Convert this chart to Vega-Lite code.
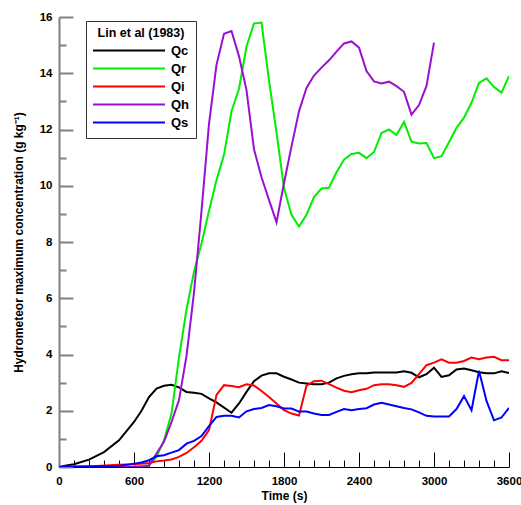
{
  "$schema": "https://vega.github.io/schema/vega-lite/v6.json",
  "width": 450,
  "height": 450,
  "autosize": "none",
  "padding": {"left": 59, "top": 17, "right": 12, "bottom": 38},
  "config": {
    "view": {"stroke": null},
    "font": "Liberation Sans"
  },
  "datasets": {
    "series": [
      {"Time": 0, "Value": 0, "Species": "Qc"},
      {"Time": 60, "Value": 0.05, "Species": "Qc"},
      {"Time": 120, "Value": 0.1, "Species": "Qc"},
      {"Time": 240, "Value": 0.26, "Species": "Qc"},
      {"Time": 360, "Value": 0.53, "Species": "Qc"},
      {"Time": 480, "Value": 0.95, "Species": "Qc"},
      {"Time": 600, "Value": 1.6, "Species": "Qc"},
      {"Time": 660, "Value": 2.0, "Species": "Qc"},
      {"Time": 720, "Value": 2.49, "Species": "Qc"},
      {"Time": 780, "Value": 2.79, "Species": "Qc"},
      {"Time": 840, "Value": 2.89, "Species": "Qc"},
      {"Time": 900, "Value": 2.92, "Species": "Qc"},
      {"Time": 960, "Value": 2.83, "Species": "Qc"},
      {"Time": 1020, "Value": 2.67, "Species": "Qc"},
      {"Time": 1080, "Value": 2.64, "Species": "Qc"},
      {"Time": 1140, "Value": 2.6, "Species": "Qc"},
      {"Time": 1200, "Value": 2.44, "Species": "Qc"},
      {"Time": 1260, "Value": 2.3, "Species": "Qc"},
      {"Time": 1380, "Value": 1.93, "Species": "Qc"},
      {"Time": 1440, "Value": 2.26, "Species": "Qc"},
      {"Time": 1500, "Value": 2.67, "Species": "Qc"},
      {"Time": 1560, "Value": 3.05, "Species": "Qc"},
      {"Time": 1620, "Value": 3.25, "Species": "Qc"},
      {"Time": 1680, "Value": 3.33, "Species": "Qc"},
      {"Time": 1740, "Value": 3.33, "Species": "Qc"},
      {"Time": 1800, "Value": 3.21, "Species": "Qc"},
      {"Time": 1860, "Value": 3.11, "Species": "Qc"},
      {"Time": 1920, "Value": 3.0, "Species": "Qc"},
      {"Time": 1980, "Value": 2.97, "Species": "Qc"},
      {"Time": 2040, "Value": 2.94, "Species": "Qc"},
      {"Time": 2100, "Value": 2.94, "Species": "Qc"},
      {"Time": 2160, "Value": 3.0, "Species": "Qc"},
      {"Time": 2220, "Value": 3.15, "Species": "Qc"},
      {"Time": 2280, "Value": 3.24, "Species": "Qc"},
      {"Time": 2340, "Value": 3.3, "Species": "Qc"},
      {"Time": 2400, "Value": 3.33, "Species": "Qc"},
      {"Time": 2460, "Value": 3.33, "Species": "Qc"},
      {"Time": 2520, "Value": 3.36, "Species": "Qc"},
      {"Time": 2580, "Value": 3.36, "Species": "Qc"},
      {"Time": 2640, "Value": 3.36, "Species": "Qc"},
      {"Time": 2700, "Value": 3.36, "Species": "Qc"},
      {"Time": 2760, "Value": 3.4, "Species": "Qc"},
      {"Time": 2820, "Value": 3.35, "Species": "Qc"},
      {"Time": 2880, "Value": 3.19, "Species": "Qc"},
      {"Time": 2940, "Value": 3.3, "Species": "Qc"},
      {"Time": 3000, "Value": 3.53, "Species": "Qc"},
      {"Time": 3060, "Value": 3.2, "Species": "Qc"},
      {"Time": 3120, "Value": 3.26, "Species": "Qc"},
      {"Time": 3180, "Value": 3.47, "Species": "Qc"},
      {"Time": 3240, "Value": 3.5, "Species": "Qc"},
      {"Time": 3300, "Value": 3.44, "Species": "Qc"},
      {"Time": 3360, "Value": 3.37, "Species": "Qc"},
      {"Time": 3420, "Value": 3.33, "Species": "Qc"},
      {"Time": 3480, "Value": 3.33, "Species": "Qc"},
      {"Time": 3540, "Value": 3.4, "Species": "Qc"},
      {"Time": 3600, "Value": 3.34, "Species": "Qc"},

      {"Time": 0, "Value": 0, "Species": "Qr"},
      {"Time": 600, "Value": 0.02, "Species": "Qr"},
      {"Time": 720, "Value": 0.06, "Species": "Qr"},
      {"Time": 780, "Value": 0.36, "Species": "Qr"},
      {"Time": 840, "Value": 0.95, "Species": "Qr"},
      {"Time": 900, "Value": 1.9, "Species": "Qr"},
      {"Time": 960, "Value": 3.9, "Species": "Qr"},
      {"Time": 1020, "Value": 5.6, "Species": "Qr"},
      {"Time": 1080, "Value": 6.95, "Species": "Qr"},
      {"Time": 1140, "Value": 7.95, "Species": "Qr"},
      {"Time": 1200, "Value": 9.1, "Species": "Qr"},
      {"Time": 1260, "Value": 10.2, "Species": "Qr"},
      {"Time": 1320, "Value": 11.1, "Species": "Qr"},
      {"Time": 1380, "Value": 12.65, "Species": "Qr"},
      {"Time": 1440, "Value": 13.45, "Species": "Qr"},
      {"Time": 1500, "Value": 14.95, "Species": "Qr"},
      {"Time": 1560, "Value": 15.77, "Species": "Qr"},
      {"Time": 1620, "Value": 15.8, "Species": "Qr"},
      {"Time": 1680, "Value": 13.75, "Species": "Qr"},
      {"Time": 1740, "Value": 11.9, "Species": "Qr"},
      {"Time": 1800, "Value": 9.92, "Species": "Qr"},
      {"Time": 1860, "Value": 8.97, "Species": "Qr"},
      {"Time": 1920, "Value": 8.55, "Species": "Qr"},
      {"Time": 1980, "Value": 8.97, "Species": "Qr"},
      {"Time": 2040, "Value": 9.6, "Species": "Qr"},
      {"Time": 2100, "Value": 9.9, "Species": "Qr"},
      {"Time": 2160, "Value": 9.93, "Species": "Qr"},
      {"Time": 2220, "Value": 10.48, "Species": "Qr"},
      {"Time": 2280, "Value": 10.93, "Species": "Qr"},
      {"Time": 2340, "Value": 11.13, "Species": "Qr"},
      {"Time": 2400, "Value": 11.17, "Species": "Qr"},
      {"Time": 2460, "Value": 10.98, "Species": "Qr"},
      {"Time": 2520, "Value": 11.2, "Species": "Qr"},
      {"Time": 2580, "Value": 11.88, "Species": "Qr"},
      {"Time": 2640, "Value": 12.0, "Species": "Qr"},
      {"Time": 2700, "Value": 11.8, "Species": "Qr"},
      {"Time": 2760, "Value": 12.27, "Species": "Qr"},
      {"Time": 2820, "Value": 11.57, "Species": "Qr"},
      {"Time": 2880, "Value": 11.5, "Species": "Qr"},
      {"Time": 2940, "Value": 11.52, "Species": "Qr"},
      {"Time": 3000, "Value": 10.98, "Species": "Qr"},
      {"Time": 3060, "Value": 11.05, "Species": "Qr"},
      {"Time": 3120, "Value": 11.55, "Species": "Qr"},
      {"Time": 3180, "Value": 12.06, "Species": "Qr"},
      {"Time": 3240, "Value": 12.42, "Species": "Qr"},
      {"Time": 3300, "Value": 12.95, "Species": "Qr"},
      {"Time": 3360, "Value": 13.66, "Species": "Qr"},
      {"Time": 3420, "Value": 13.82, "Species": "Qr"},
      {"Time": 3480, "Value": 13.51, "Species": "Qr"},
      {"Time": 3540, "Value": 13.31, "Species": "Qr"},
      {"Time": 3600, "Value": 13.9, "Species": "Qr"},

      {"Time": 0, "Value": 0, "Species": "Qi"},
      {"Time": 300, "Value": 0.04, "Species": "Qi"},
      {"Time": 480, "Value": 0.08, "Species": "Qi"},
      {"Time": 600, "Value": 0.1, "Species": "Qi"},
      {"Time": 720, "Value": 0.14, "Species": "Qi"},
      {"Time": 780, "Value": 0.2, "Species": "Qi"},
      {"Time": 840, "Value": 0.23, "Species": "Qi"},
      {"Time": 900, "Value": 0.27, "Species": "Qi"},
      {"Time": 960, "Value": 0.36, "Species": "Qi"},
      {"Time": 1020, "Value": 0.5, "Species": "Qi"},
      {"Time": 1080, "Value": 0.7, "Species": "Qi"},
      {"Time": 1140, "Value": 0.93, "Species": "Qi"},
      {"Time": 1200, "Value": 1.31, "Species": "Qi"},
      {"Time": 1260, "Value": 2.56, "Species": "Qi"},
      {"Time": 1320, "Value": 2.91, "Species": "Qi"},
      {"Time": 1380, "Value": 2.88, "Species": "Qi"},
      {"Time": 1440, "Value": 2.84, "Species": "Qi"},
      {"Time": 1500, "Value": 2.94, "Species": "Qi"},
      {"Time": 1560, "Value": 2.9, "Species": "Qi"},
      {"Time": 1620, "Value": 2.7, "Species": "Qi"},
      {"Time": 1680, "Value": 2.49, "Species": "Qi"},
      {"Time": 1740, "Value": 2.26, "Species": "Qi"},
      {"Time": 1800, "Value": 2.02, "Species": "Qi"},
      {"Time": 1860, "Value": 1.9, "Species": "Qi"},
      {"Time": 1920, "Value": 1.83, "Species": "Qi"},
      {"Time": 1980, "Value": 2.89, "Species": "Qi"},
      {"Time": 2040, "Value": 3.05, "Species": "Qi"},
      {"Time": 2100, "Value": 3.07, "Species": "Qi"},
      {"Time": 2160, "Value": 2.95, "Species": "Qi"},
      {"Time": 2220, "Value": 2.82, "Species": "Qi"},
      {"Time": 2280, "Value": 2.71, "Species": "Qi"},
      {"Time": 2340, "Value": 2.66, "Species": "Qi"},
      {"Time": 2400, "Value": 2.73, "Species": "Qi"},
      {"Time": 2460, "Value": 2.78, "Species": "Qi"},
      {"Time": 2520, "Value": 2.91, "Species": "Qi"},
      {"Time": 2580, "Value": 2.94, "Species": "Qi"},
      {"Time": 2640, "Value": 2.94, "Species": "Qi"},
      {"Time": 2700, "Value": 2.91, "Species": "Qi"},
      {"Time": 2760, "Value": 2.85, "Species": "Qi"},
      {"Time": 2820, "Value": 2.99, "Species": "Qi"},
      {"Time": 2880, "Value": 3.3, "Species": "Qi"},
      {"Time": 2940, "Value": 3.62, "Species": "Qi"},
      {"Time": 3000, "Value": 3.71, "Species": "Qi"},
      {"Time": 3060, "Value": 3.83, "Species": "Qi"},
      {"Time": 3120, "Value": 3.71, "Species": "Qi"},
      {"Time": 3180, "Value": 3.71, "Species": "Qi"},
      {"Time": 3240, "Value": 3.77, "Species": "Qi"},
      {"Time": 3300, "Value": 3.89, "Species": "Qi"},
      {"Time": 3360, "Value": 3.83, "Species": "Qi"},
      {"Time": 3420, "Value": 3.89, "Species": "Qi"},
      {"Time": 3480, "Value": 3.92, "Species": "Qi"},
      {"Time": 3540, "Value": 3.8, "Species": "Qi"},
      {"Time": 3600, "Value": 3.8, "Species": "Qi"},

      {"Time": 0, "Value": 0, "Species": "Qh"},
      {"Time": 660, "Value": 0.0, "Species": "Qh"},
      {"Time": 720, "Value": 0.05, "Species": "Qh"},
      {"Time": 780, "Value": 0.48, "Species": "Qh"},
      {"Time": 840, "Value": 0.9, "Species": "Qh"},
      {"Time": 900, "Value": 1.6, "Species": "Qh"},
      {"Time": 960, "Value": 2.38, "Species": "Qh"},
      {"Time": 1020, "Value": 3.95, "Species": "Qh"},
      {"Time": 1080, "Value": 6.2, "Species": "Qh"},
      {"Time": 1140, "Value": 9.1, "Species": "Qh"},
      {"Time": 1200, "Value": 12.2, "Species": "Qh"},
      {"Time": 1260, "Value": 14.3, "Species": "Qh"},
      {"Time": 1320, "Value": 15.4, "Species": "Qh"},
      {"Time": 1380, "Value": 15.5, "Species": "Qh"},
      {"Time": 1440, "Value": 14.6, "Species": "Qh"},
      {"Time": 1500, "Value": 13.4, "Species": "Qh"},
      {"Time": 1560, "Value": 11.3, "Species": "Qh"},
      {"Time": 1620, "Value": 10.3, "Species": "Qh"},
      {"Time": 1680, "Value": 9.5, "Species": "Qh"},
      {"Time": 1740, "Value": 8.7, "Species": "Qh"},
      {"Time": 1800, "Value": 10.1, "Species": "Qh"},
      {"Time": 1860, "Value": 11.4, "Species": "Qh"},
      {"Time": 1920, "Value": 12.65, "Species": "Qh"},
      {"Time": 1980, "Value": 13.48, "Species": "Qh"},
      {"Time": 2040, "Value": 13.92, "Species": "Qh"},
      {"Time": 2100, "Value": 14.2, "Species": "Qh"},
      {"Time": 2160, "Value": 14.46, "Species": "Qh"},
      {"Time": 2220, "Value": 14.77, "Species": "Qh"},
      {"Time": 2280, "Value": 15.06, "Species": "Qh"},
      {"Time": 2340, "Value": 15.13, "Species": "Qh"},
      {"Time": 2400, "Value": 14.91, "Species": "Qh"},
      {"Time": 2460, "Value": 14.08, "Species": "Qh"},
      {"Time": 2520, "Value": 13.71, "Species": "Qh"},
      {"Time": 2580, "Value": 13.64, "Species": "Qh"},
      {"Time": 2640, "Value": 13.7, "Species": "Qh"},
      {"Time": 2700, "Value": 13.54, "Species": "Qh"},
      {"Time": 2760, "Value": 13.34, "Species": "Qh"},
      {"Time": 2820, "Value": 12.53, "Species": "Qh"},
      {"Time": 2880, "Value": 12.87, "Species": "Qh"},
      {"Time": 2940, "Value": 13.55, "Species": "Qh"},
      {"Time": 3000, "Value": 15.09, "Species": "Qh"},

      {"Time": 0, "Value": 0, "Species": "Qs"},
      {"Time": 480, "Value": 0.04, "Species": "Qs"},
      {"Time": 600, "Value": 0.12, "Species": "Qs"},
      {"Time": 660, "Value": 0.16, "Species": "Qs"},
      {"Time": 720, "Value": 0.24, "Species": "Qs"},
      {"Time": 780, "Value": 0.38, "Species": "Qs"},
      {"Time": 840, "Value": 0.42, "Species": "Qs"},
      {"Time": 900, "Value": 0.51, "Species": "Qs"},
      {"Time": 960, "Value": 0.6, "Species": "Qs"},
      {"Time": 1020, "Value": 0.83, "Species": "Qs"},
      {"Time": 1080, "Value": 0.93, "Species": "Qs"},
      {"Time": 1140, "Value": 1.1, "Species": "Qs"},
      {"Time": 1200, "Value": 1.45, "Species": "Qs"},
      {"Time": 1260, "Value": 1.78, "Species": "Qs"},
      {"Time": 1320, "Value": 1.82, "Species": "Qs"},
      {"Time": 1380, "Value": 1.82, "Species": "Qs"},
      {"Time": 1440, "Value": 1.76, "Species": "Qs"},
      {"Time": 1500, "Value": 1.98, "Species": "Qs"},
      {"Time": 1560, "Value": 2.06, "Species": "Qs"},
      {"Time": 1620, "Value": 2.1, "Species": "Qs"},
      {"Time": 1680, "Value": 2.2, "Species": "Qs"},
      {"Time": 1740, "Value": 2.16, "Species": "Qs"},
      {"Time": 1800, "Value": 2.08, "Species": "Qs"},
      {"Time": 1860, "Value": 2.08, "Species": "Qs"},
      {"Time": 1920, "Value": 1.97, "Species": "Qs"},
      {"Time": 1980, "Value": 1.97, "Species": "Qs"},
      {"Time": 2040, "Value": 1.9, "Species": "Qs"},
      {"Time": 2100, "Value": 1.85, "Species": "Qs"},
      {"Time": 2160, "Value": 1.85, "Species": "Qs"},
      {"Time": 2220, "Value": 1.96, "Species": "Qs"},
      {"Time": 2280, "Value": 2.06, "Species": "Qs"},
      {"Time": 2340, "Value": 2.02, "Species": "Qs"},
      {"Time": 2400, "Value": 2.06, "Species": "Qs"},
      {"Time": 2460, "Value": 2.09, "Species": "Qs"},
      {"Time": 2520, "Value": 2.22, "Species": "Qs"},
      {"Time": 2580, "Value": 2.28, "Species": "Qs"},
      {"Time": 2640, "Value": 2.22, "Species": "Qs"},
      {"Time": 2700, "Value": 2.16, "Species": "Qs"},
      {"Time": 2760, "Value": 2.1, "Species": "Qs"},
      {"Time": 2820, "Value": 2.05, "Species": "Qs"},
      {"Time": 2880, "Value": 1.94, "Species": "Qs"},
      {"Time": 2940, "Value": 1.82, "Species": "Qs"},
      {"Time": 3000, "Value": 1.8, "Species": "Qs"},
      {"Time": 3060, "Value": 1.8, "Species": "Qs"},
      {"Time": 3120, "Value": 1.8, "Species": "Qs"},
      {"Time": 3180, "Value": 2.06, "Species": "Qs"},
      {"Time": 3240, "Value": 2.52, "Species": "Qs"},
      {"Time": 3300, "Value": 2.02, "Species": "Qs"},
      {"Time": 3360, "Value": 3.42, "Species": "Qs"},
      {"Time": 3420, "Value": 2.35, "Species": "Qs"},
      {"Time": 3480, "Value": 1.66, "Species": "Qs"},
      {"Time": 3540, "Value": 1.76, "Species": "Qs"},
      {"Time": 3600, "Value": 2.1, "Species": "Qs"}
    ]
  },
  "data": {"name": "series"},
  "mark": {"type": "line", "strokeWidth": 2, "clip": true},
  "encoding": {
    "x": {
      "field": "Time",
      "type": "quantitative",
      "scale": {"domain": [0, 3600], "nice": false},
      "axis": {
        "title": "Time (s)",
        "values": [0,120,240,360,480,600,720,840,960,1080,1200,1320,1440,1560,1680,1800,1920,2040,2160,2280,2400,2520,2640,2760,2880,3000,3120,3240,3360,3480,3600],
        "labelExpr": "datum.value % 600 === 0 ? datum.label : ''",
        "format": "d",
        "grid": false,
        "domainColor": "#000000",
        "domainWidth": 1,
        "tickColor": "#000000",
        "tickWidth": 1,
        "tickSize": {"condition": {"test": "datum.value % 600 === 0", "value": -15}, "value": -7},
        "labelPadding": 23,
        "labelFont": "Liberation Sans",
        "labelFontSize": 11.5,
        "labelFontWeight": "bold",
        "labelColor": "#000000",
        "labelFlush": false,
        "labelOverlap": false,
        "titleFont": "Liberation Sans",
        "titleFontSize": 12,
        "titleFontWeight": "bold",
        "titleColor": "#000000",
        "titleX": 225,
        "titleY": 28,
        "titleBaseline": "middle"
      }
    },
    "y": {
      "field": "Value",
      "type": "quantitative",
      "scale": {"domain": [0, 16], "nice": false},
      "axis": {
        "title": "Hydrometeor maximum concentration (g kg⁻¹)",
        "values": [0,1,2,3,4,5,6,7,8,9,10,11,12,13,14,15,16],
        "labelExpr": "datum.value % 2 === 0 ? datum.label : ''",
        "grid": false,
        "domainColor": "#808080",
        "domainWidth": 2,
        "tickColor": "#808080",
        "tickWidth": 2,
        "tickSize": {"condition": {"test": "datum.value % 2 === 0", "value": -14}, "value": -7},
        "labelPadding": 21,
        "labelFont": "Liberation Sans",
        "labelFontSize": 11.5,
        "labelFontWeight": "bold",
        "labelColor": "#000000",
        "labelFlush": false,
        "labelOverlap": false,
        "titleFont": "Liberation Sans",
        "titleFontSize": 12,
        "titleFontWeight": "bold",
        "titleColor": "#000000",
        "titleX": -41,
        "titleY": 225,
        "titleAngle": 270,
        "titleAlign": "center",
        "titleBaseline": "middle"
      }
    },
    "color": {
      "field": "Species",
      "type": "nominal",
      "scale": {
        "domain": ["Qc", "Qr", "Qi", "Qh", "Qs"],
        "range": ["#000000", "#00ee00", "#ff0000", "#9a10d0", "#0000ff"]
      },
      "legend": {
        "title": "Lin et al (1983)",
        "orient": "none",
        "legendX": 27,
        "legendY": 4,
        "direction": "vertical",
        "padding": 6,
        "strokeColor": "#333333",
        "fillColor": "#ffffff",
        "symbolType": "stroke",
        "symbolSize": 5184,
        "symbolStrokeWidth": 2,
        "clipHeight": 18,
        "rowPadding": 0,
        "labelOffset": 5,
        "labelFont": "Liberation Sans",
        "labelFontSize": 13,
        "labelFontWeight": "bold",
        "labelColor": "#000000",
        "titleFont": "Liberation Sans",
        "titleFontSize": 12.5,
        "titleFontWeight": "bold",
        "titleColor": "#000000",
        "titleAnchor": "middle",
        "titlePadding": 2
      }
    }
  }
}
